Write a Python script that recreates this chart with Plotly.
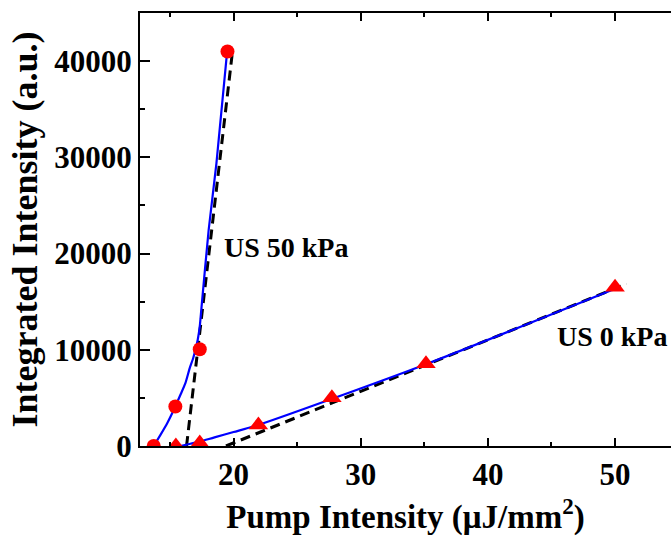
import plotly.graph_objects as go

# --- data ---
# US 50 kPa measured points (circles)
us50_x = [13.72, 15.42, 17.34, 19.52]
us50_y = [0, 4110, 10060, 41000]
# US 0 kPa measured points (triangles)
us0_x = [15.46, 17.34, 21.95, 27.73, 35.13, 50.0]
us0_y = [0, 300, 2170, 5005, 8540, 16510]

# blue fitted curves
fit50_x = [13.72, 14.25, 14.78, 15.30, 15.82, 16.21, 16.55, 16.82, 17.0, 17.18,
           17.34, 17.47, 18.04, 18.65, 19.49]
fit50_y = [0, 1160, 2370, 3760, 5320, 6530, 8090, 9120, 10000, 11040,
           12420, 14300, 22450, 29380, 40960]
fit0_x = [15.82, 16.6, 17.39, 18.5, 20.0, 21.85, 27.73, 35.13, 50.0]
fit0_y = [0, 230, 480, 900, 1450, 2150, 4900, 8500, 16350]

# black dashed linear threshold fits
lin50_x = [16.3, 19.88]
lin50_y = [0, 40620]
lin0_x = [19.4, 50.9]
lin0_y = [0, 16850]

labels = ["US 50 kPa", "US 0 kPa"]
label_x = [19.1, 45.28]
label_y = [20580, 11370]

FONT = "Liberation Serif"

fig = go.Figure()
fig.add_trace(go.Scatter(x=lin50_x, y=lin50_y, mode="lines",
                         line=dict(color="black", width=3, dash="10px,6px")))
fig.add_trace(go.Scatter(x=lin0_x, y=lin0_y, mode="lines",
                         line=dict(color="black", width=3, dash="10px,6px")))
fig.add_trace(go.Scatter(x=fit50_x, y=fit50_y, mode="lines",
                         line=dict(color="#0000FF", width=2.2, shape="spline", smoothing=0.6)))
fig.add_trace(go.Scatter(x=fit0_x, y=fit0_y, mode="lines",
                         line=dict(color="#0000FF", width=2.2, shape="spline", smoothing=0.8)))
fig.add_trace(go.Scatter(x=us50_x, y=us50_y, mode="markers",
                         marker=dict(symbol="circle", size=14, color="#FF0000")))
fig.add_trace(go.Scatter(x=us0_x, y=us0_y, mode="markers",
                         marker=dict(symbol="triangle-up", size=17, color="#FF0000")))

for t, x, y in zip(labels, label_x, label_y):
    fig.add_annotation(x=x, y=y, xref="x", yref="y", text="<b>%s</b>" % t,
                       showarrow=False, xanchor="left", yanchor="middle",
                       font=dict(family=FONT, size=28, color="black"))

fig.update_layout(
    width=671, height=538,
    margin=dict(l=140, r=0, t=13, b=92),
    paper_bgcolor="white", plot_bgcolor="white",
    showlegend=False,
    font=dict(family=FONT, color="black"),
)
fig.update_xaxes(
    range=[12.64, 54.4], tick0=0, dtick=10,
    ticks="inside", ticklen=8, tickwidth=2, tickcolor="black",
    showline=True, linewidth=2, linecolor="black", mirror="ticks",
    showgrid=False, zeroline=False,
    minor=dict(ticks="inside", ticklen=4, tickwidth=2, tickcolor="black", dtick=5, showgrid=False),
    tickfont=dict(family=FONT, size=31, color="black", weight="bold"),
    title=dict(text="<b>Pump Intensity (μJ/mm<sup>2</sup>)</b>",
               font=dict(family=FONT, size=33, color="black"), standoff=14),
)
fig.update_yaxes(
    range=[0, 45000], tick0=0, dtick=10000, tickformat="d",
    ticks="inside", ticklen=10, tickwidth=2, tickcolor="black",
    showline=True, linewidth=2, linecolor="black", mirror=False,
    showgrid=False, zeroline=False,
    minor=dict(ticks="inside", ticklen=5, tickwidth=2, tickcolor="black", dtick=5000, showgrid=False),
    tickfont=dict(family=FONT, size=31, color="black", weight="bold"),
    title=dict(text="<b>Integrated Intensity (a.u.)</b>",
               font=dict(family=FONT, size=36, color="black"), standoff=6),
)

fig.write_html("out.html")
